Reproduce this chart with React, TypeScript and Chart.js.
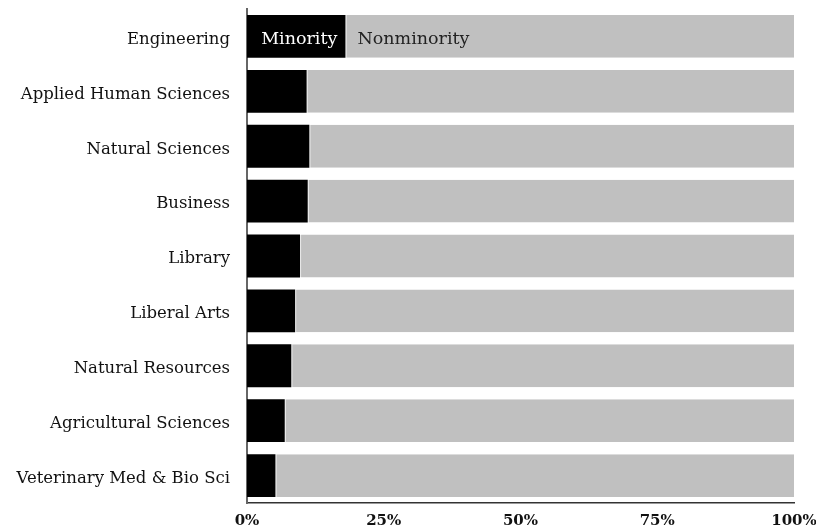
import React, { useEffect, useRef } from "react";
import { Chart, registerables } from "chart.js";

Chart.register(...registerables);

const categories = [
  "Engineering",
  "Applied Human Sciences",
  "Natural Sciences",
  "Business",
  "Library",
  "Liberal Arts",
  "Natural Resources",
  "Agricultural Sciences",
  "Veterinary Med & Bio Sci",
];

const minority = [18.0, 10.9, 11.4, 11.1, 9.7, 8.8, 8.1, 6.9, 5.2];
const nonminority = minority.map((v) => 100 - v);

const tickValues = [0, 25, 50, 75, 100];

const FONT = "'DejaVu Serif', serif";

const inBarLabels = {
  id: "inBarLabels",
  afterDatasetsDraw(chart: any) {
    const ctx = chart.ctx;
    const m0 = chart.getDatasetMeta(0).data[0];
    const n0 = chart.getDatasetMeta(1).data[0];
    if (!m0 || !n0) return;
    ctx.save();
    ctx.font = `17.5px ${FONT}`;
    ctx.textBaseline = "middle";
    ctx.fillStyle = "#ffffff";
    ctx.textAlign = "center";
    ctx.fillText("Minority", (m0.base + m0.x) / 2 + 3, m0.y + 3);
    ctx.fillStyle = "#222222";
    ctx.textAlign = "left";
    ctx.fillText("Nonminority", n0.base + 12, n0.y + 3);
    ctx.restore();
  },
};

function zeroPad(scale: any) {
  scale.paddingLeft = 0;
  scale.paddingRight = 0;
  scale.paddingTop = 0;
  scale.paddingBottom = 0;
}

export default function App() {
  const ref = useRef<HTMLCanvasElement | null>(null);
  useEffect(() => {
    if (!ref.current) return;
    const chart = new Chart(ref.current, {
      type: "bar",
      data: {
        labels: categories,
        datasets: [
          {
            label: "Minority",
            data: minority,
            backgroundColor: "#000000",
            borderWidth: 0,
            barPercentage: 0.78,
            categoryPercentage: 1,
          },
          {
            label: "Nonminority",
            data: nonminority,
            backgroundColor: "#c0c0c0",
            borderColor: "#f4f4f4",
            borderWidth: { left: 1, right: 0, top: 0, bottom: 0 },
            borderSkipped: false,
            barPercentage: 0.78,
            categoryPercentage: 1,
          },
        ],
      },
      options: {
        indexAxis: "y",
        animation: false,
        responsive: true,
        maintainAspectRatio: false,
        layout: { padding: { top: 9, right: 22, left: 0, bottom: 0 } },
        plugins: { legend: { display: false }, tooltip: { enabled: false } },
        scales: {
          x: {
            stacked: true,
            min: 0,
            max: 100,
            afterBuildTicks(scale: any) {
              scale.ticks = tickValues.map((v) => ({ value: v }));
            },
            afterFit(scale: any) {
              scale.height = 28;
              zeroPad(scale);
            },
            grid: { display: false, drawTicks: false },
            border: { display: true, color: "#333333", width: 1.5 },
            ticks: {
              padding: 9,
              color: "#111111",
              font: { family: FONT, size: 15, weight: "bold" },
              callback: (v: any) => v + "%",
              maxRotation: 0,
            },
          },
          y: {
            stacked: true,
            afterFit(scale: any) {
              scale.width = 247;
              zeroPad(scale);
            },
            grid: { display: false, drawTicks: false },
            border: { display: true, color: "#666666", width: 2 },
            ticks: {
              padding: 17,
              labelOffset: 3,
              color: "#111111",
              font: { family: FONT, size: 16.5 },
            },
          },
        },
      },
      plugins: [inBarLabels],
    });
    return () => chart.destroy();
  }, []);
  return (
    <div style={{ position: "absolute", left: 0, top: 0, width: 816, height: 531 }}>
      <canvas ref={ref} />
    </div>
  );
}
